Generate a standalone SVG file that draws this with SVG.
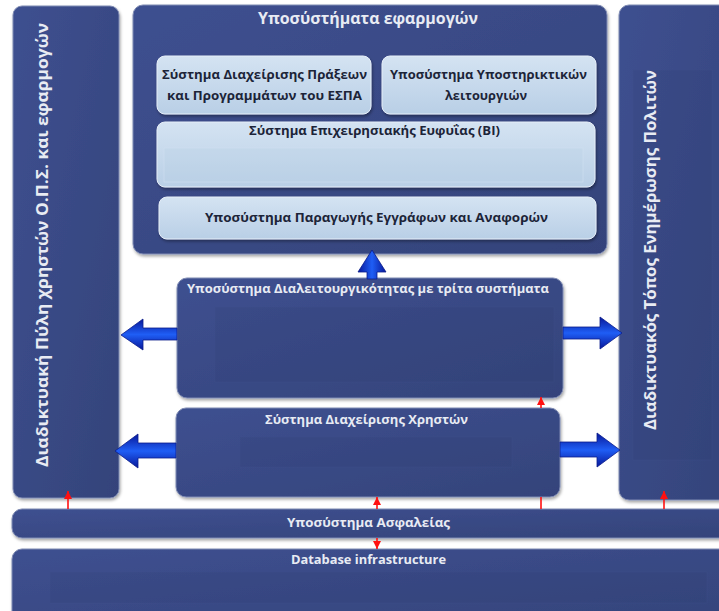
<svg xmlns="http://www.w3.org/2000/svg" width="719" height="611" viewBox="0 0 719 611">
<defs>
<linearGradient id="gDark" x1="0" y1="0" x2="1" y2="1">
<stop offset="0" stop-color="#3e5090"/>
<stop offset="1" stop-color="#34437a"/>
</linearGradient>
<linearGradient id="gLight" x1="0" y1="0" x2="0" y2="1">
<stop offset="0" stop-color="#d4e3f2"/>
<stop offset="1" stop-color="#b9cfe6"/>
</linearGradient>
<linearGradient id="gArrH" x1="0" y1="0" x2="0" y2="1">
<stop offset="0" stop-color="#08189a"/>
<stop offset="0.5" stop-color="#1f5ef5"/>
<stop offset="1" stop-color="#08189a"/>
</linearGradient>
<linearGradient id="gArrV" x1="0" y1="0" x2="1" y2="0">
<stop offset="0" stop-color="#08189a"/>
<stop offset="0.5" stop-color="#1f5ef5"/>
<stop offset="1" stop-color="#08189a"/>
</linearGradient>
<filter id="sh" x="-10%" y="-10%" width="120%" height="130%">
<feDropShadow dx="1" dy="2" stdDeviation="1.5" flood-color="#000" flood-opacity="0.35"/>
</filter>
<marker id="red" viewBox="0 0 10 10" refX="10" refY="5" markerWidth="8" markerHeight="8" markerUnits="userSpaceOnUse" orient="auto">
<path d="M0,0 L10,5 L0,10 Z" fill="#ff1010"/>
</marker>
<style>
.dark{fill:url(#gDark);stroke:#7f8bb3;stroke-width:1;filter:url(#sh)}
.light{fill:url(#gLight);stroke:#e6eef8;stroke-width:1;filter:url(#sh)}
.inner{fill:#2c3a6c;fill-opacity:0.14;stroke:#44548e;stroke-opacity:0.4;stroke-width:0.6}
.innerL{fill:#b9cfe6;fill-opacity:0.3;stroke:#cfdff0;stroke-width:0.6}
.tw{font-family:"Open Sans","Noto Sans","DejaVu Sans",sans-serif;font-weight:bold;fill:#e8ebf3;text-anchor:middle}
.td{font-family:"Open Sans","Noto Sans","DejaVu Sans",sans-serif;font-weight:bold;fill:#1c2438;text-anchor:middle}
.barr{stroke:#0a1c8a;stroke-width:0.8}
.red{stroke:#ff1010;stroke-width:1.6;fill:none;marker-end:url(#red)}
</style>
</defs>
<rect width="719" height="611" fill="#ffffff"/>

<g id="portal-users">
<rect class="dark" x="13" y="6" width="106" height="492" rx="9"/>
<text class="tw" font-size="16" transform="translate(47.5,245) rotate(-90)" textLength="444" lengthAdjust="spacingAndGlyphs">Διαδικτυακή Πύλη χρηστών Ο.Π.Σ. και εφαρμογών</text>
</g>

<g id="portal-citizens">
<rect class="dark" x="619" y="5" width="115" height="495" rx="10"/>
<rect class="inner" x="633" y="70" width="79" height="390"/>
<text class="tw" font-size="16" transform="translate(656,250) rotate(-90)" textLength="360" lengthAdjust="spacingAndGlyphs">Διαδικτυακός Τόπος Ενημέρωσης Πολιτών</text>
</g>

<g id="applications">
<rect class="dark" x="133" y="5" width="474" height="249" rx="10"/>
<text class="tw" font-size="16" x="368" y="24" textLength="220" lengthAdjust="spacingAndGlyphs">Υποσύστήματα εφαρμογών</text>
</g>

<g id="espa">
<rect class="light" x="157" y="56" width="214" height="58" rx="8"/>
<text class="td" font-size="12" x="264.5" y="79" textLength="205" lengthAdjust="spacingAndGlyphs">Σύστημα Διαχείρισης Πράξεων</text>
<text class="td" font-size="12" x="264.5" y="100" textLength="195" lengthAdjust="spacingAndGlyphs">και Προγραμμάτων του ΕΣΠΑ</text>
</g>

<g id="support">
<rect class="light" x="382" y="56" width="214" height="58" rx="8"/>
<text class="td" font-size="12" x="488.5" y="79" textLength="197" lengthAdjust="spacingAndGlyphs">Υποσύστημα Υποστηρικτικών</text>
<text class="td" font-size="12" x="486" y="100" textLength="82" lengthAdjust="spacingAndGlyphs">λειτουργιών</text>
</g>

<g id="bi">
<rect class="light" x="157" y="122" width="438" height="65" rx="8"/>
<rect class="innerL" x="164" y="148" width="419" height="34"/>
<text class="td" font-size="12.5" x="374.5" y="135" textLength="251" lengthAdjust="spacingAndGlyphs">Σύστημα Επιχειρησιακής Ευφυΐας (BI)</text>
</g>

<g id="reports">
<rect class="light" x="159" y="197" width="437" height="42" rx="8"/>
<text class="td" font-size="13" x="376.5" y="222" textLength="343" lengthAdjust="spacingAndGlyphs">Υποσύστημα Παραγωγής Εγγράφων και Αναφορών</text>
</g>

<g id="interop">
<rect class="dark" x="177" y="278" width="386" height="120" rx="10"/>
<rect class="inner" x="215" y="307" width="339" height="75"/>
<text class="tw" font-size="13" x="368" y="293" textLength="362" lengthAdjust="spacingAndGlyphs">Υποσύστημα Διαλειτουργικότητας με τρίτα συστήματα</text>
</g>

<g id="users">
<rect class="dark" x="176" y="408" width="384" height="89" rx="10"/>
<rect class="inner" x="240" y="437" width="272" height="30"/>
<text class="tw" font-size="13" x="366.5" y="424" textLength="203" lengthAdjust="spacingAndGlyphs">Σύστημα Διαχείρισης Χρηστών</text>
</g>

<g id="security">
<rect class="dark" x="12" y="509" width="722" height="29" rx="10"/>
<text class="tw" font-size="13" x="368.5" y="527" textLength="163" lengthAdjust="spacingAndGlyphs">Υποσύστημα Ασφαλείας</text>
</g>

<g id="database">
<rect class="dark" x="12" y="549" width="722" height="80" rx="10"/>
<rect class="inner" x="50" y="572" width="657" height="31"/>
<text class="tw" font-size="13" x="368.5" y="564" textLength="155" lengthAdjust="spacingAndGlyphs">Database infrastructure</text>
</g>

<g id="connectors">
<polygon class="barr" fill="url(#gArrV)" points="372,250 386,272 377,272 377,279 367,279 367,272 358,272"/>
<polygon class="barr" fill="url(#gArrH)" points="121,335 143,319 143,328 177,328 177,340 143,340 143,350"/>
<polygon class="barr" fill="url(#gArrH)" points="622,333 600,317 600,327 563,327 563,339 600,339 600,349"/>
<polygon class="barr" fill="url(#gArrH)" points="115,451 138,434 138,443 176,443 176,458 138,458 138,468"/>
<polygon class="barr" fill="url(#gArrH)" points="620,450 597,433 597,442 560,442 560,457 597,457 597,467"/>
<path class="red" d="M68,509 V491"/>
<path class="red" d="M377,509 V497"/>
<path class="red" d="M377,538 V549"/>
<path class="red" d="M541,509 V497 M541,408 V397"/>
<path class="red" d="M664,509 V491"/>
</g>
</svg>
